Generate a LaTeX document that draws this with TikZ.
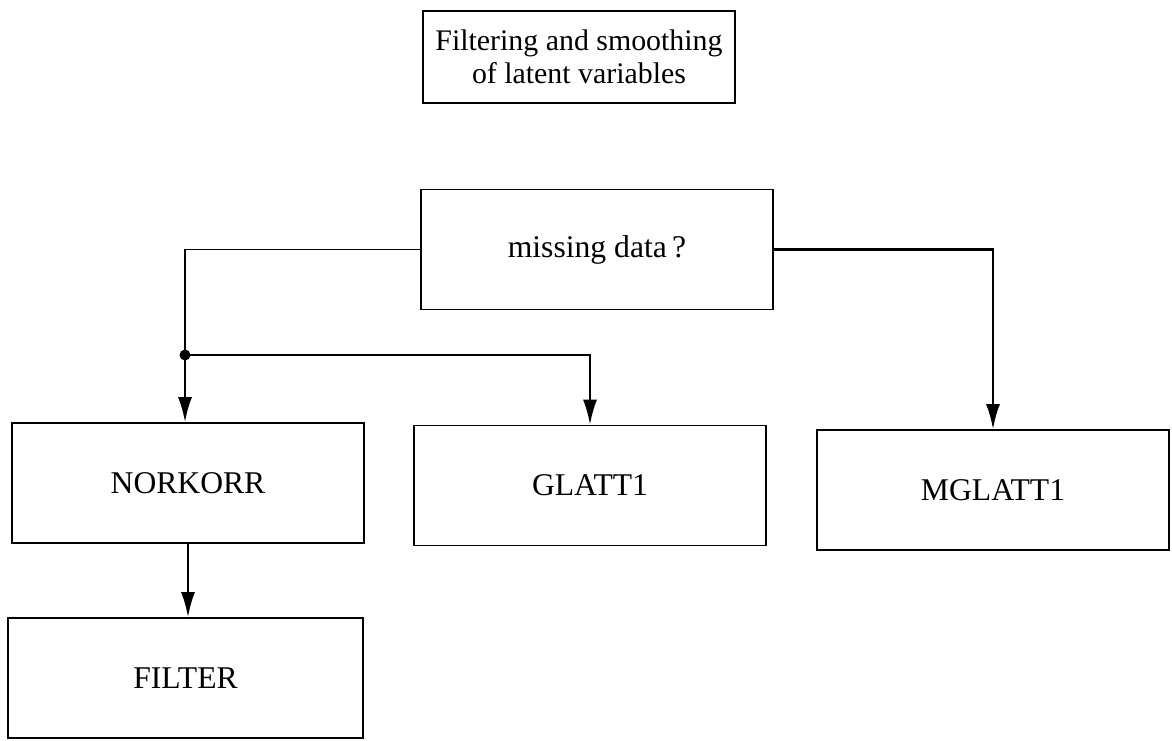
\documentclass[tikz,border=0pt]{standalone}
\usepackage{fontspec}
\setmainfont{Liberation Serif}
\usepackage{tikz}
\usetikzlibrary{arrows.meta}
\tikzset{box/.style={draw, line width=1pt, minimum width=7.04cm, minimum height=2.4cm, align=center, font=\fontsize{18}{20}\selectfont},
  link/.style={line width=1pt},
  arr/.style={line width=1.2pt, -{Latex[length=5mm,width=2.8mm]}}}

\begin{document}
\begin{tikzpicture}
\useasboundingbox (0,0) rectangle (23.44,-14.8);
% headline
\node[box, minimum width=6.24cm, minimum height=1.84cm, font=\fontsize{17}{18.5}\selectfont] (title) at (11.58,-1.14) {Filtering and smoothing\\of latent variables};
% decision
\node[box] (miss) at (11.94,-4.99) {missing data\,?};
% programs
\node[box] (norkorr) at (3.76,-9.66) {NORKORR};
\node[box] (glatt) at (11.80,-9.71) {GLATT1};
\node[box] (mglatt) at (19.86,-9.80) {MGLATT1};
\node[box, minimum width=7.1cm] (filter) at (3.71,-13.56) {FILTER};
\coordinate (split) at (3.70,-7.10);
% branches
\draw[link] (miss.west) -| (split);
\fill (split) circle (0.11);
\draw[arr] (split) -- (split |- norkorr.north);
\draw[arr] (split) -| (glatt.north);
\draw[arr] (miss.east) -| (mglatt.north);
\draw[arr] (norkorr.south) -- (norkorr.south |- filter.north);
\end{tikzpicture}
\end{document}
